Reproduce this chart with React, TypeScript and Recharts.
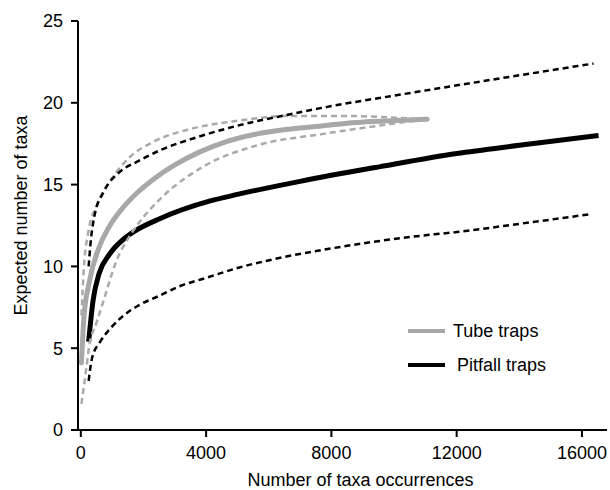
import { LineChart, Line, XAxis, YAxis, Legend } from 'recharts';

// x = number of taxa occurrences, y = expected number of taxa
const tubeMeanX = [20, 100, 265, 590, 900, 1350, 1800, 2300, 3000, 3800, 4600, 5630, 6700, 7740, 8800, 9880, 11060];
const tubeMeanY = [4.1, 6.9, 9.0, 11.2, 12.4, 13.6, 14.5, 15.3, 16.2, 17.0, 17.6, 18.1, 18.4, 18.6, 18.8, 18.9, 19.0];

const tubeUpperX = [20, 100, 230, 520, 1000, 1575, 2300, 3500, 5000, 6700, 8500, 9900, 11060];
const tubeUpperY = [7.0, 10.0, 12.0, 13.8, 15.4, 16.7, 17.6, 18.4, 18.9, 19.2, 19.2, 19.1, 19.0];

const tubeLowerX = [20, 170, 265, 490, 710, 900, 1130, 1575, 1830, 2630, 3910, 5630, 7740, 9880, 11060];
const tubeLowerY = [1.6, 3.7, 5.1, 6.5, 7.8, 9.0, 10.3, 11.9, 12.6, 14.3, 16.1, 17.4, 18.1, 18.7, 19.0];

const pitMeanX = [250, 390, 590, 900, 1450, 1850, 2500, 4130, 5000, 7000, 9560, 12000, 14000, 16530];
const pitMeanY = [5.4, 7.9, 9.6, 10.7, 11.8, 12.3, 12.9, 14.0, 14.4, 15.2, 16.1, 16.9, 17.4, 18.0];

const pitUpperX = [250, 300, 425, 745, 1256, 1800, 2530, 3720, 5000, 6690, 8000, 9880, 12760, 16370];
const pitUpperY = [10.0, 11.2, 13.0, 14.6, 15.8, 16.4, 17.1, 17.9, 18.6, 19.3, 19.8, 20.4, 21.3, 22.4];

const pitLowerX = [250, 360, 620, 940, 1575, 1830, 2500, 3170, 4000, 5000, 6560, 8000, 10520, 12000, 14000, 16300];
const pitLowerY = [3.0, 4.4, 5.4, 6.2, 7.3, 7.6, 8.2, 8.8, 9.3, 9.9, 10.6, 11.1, 11.8, 12.1, 12.6, 13.2];

const xTicks = [0, 4000, 8000, 12000, 16000];
const yTicks = [0, 5, 10, 15, 20, 25];

const legendItems = [
  { name: 'Tube traps', color: '#a8a8a8' },
  { name: 'Pitfall traps', color: '#000000' },
];

const zip = (xs: number[], ys: number[]) => xs.map((x, i) => ({ x, y: ys[i] }));

const FONT = '"Liberation Sans", Arial, sans-serif';
const tickStyle = { fill: '#000', fontSize: 18, fontFamily: FONT };

function LegendBox() {
  return (
    <div style={{ fontFamily: FONT, fontSize: 18, color: '#000' }}>
      {legendItems.map((item, i) => (
        <div key={item.name} style={{ display: 'flex', alignItems: 'center', height: 34 }}>
          <span style={{ display: 'inline-block', width: 37, height: 4, background: item.color }} />
          <span style={{ marginLeft: i === 0 ? 8 : 12 }}>{item.name}</span>
        </div>
      ))}
    </div>
  );
}

export default function App() {
  return (
    <div style={{ position: 'absolute', left: 0, top: 0, width: 610, height: 490, background: '#fff' }}>
      <LineChart width={610} height={490} margin={{ top: 21, right: 3, left: 0, bottom: 0 }}>
        <XAxis
          type="number"
          dataKey="x"
          domain={[-90, 16800]}
          ticks={xTicks}
          allowDataOverflow
          tickSize={7}
          tickMargin={9}
          height={60}
          stroke="#000"
          strokeWidth={2}
          tick={tickStyle}
          tickLine={{ stroke: '#000', strokeWidth: 2 }}
          label={{ value: 'Number of taxa occurrences', position: 'insideBottom', offset: 4, dx: 18, fill: '#000', fontSize: 18, fontFamily: FONT }}
        />
        <YAxis
          type="number"
          domain={[0, 25]}
          ticks={yTicks}
          width={78}
          tickSize={7}
          tickMargin={8}
          stroke="#000"
          strokeWidth={2}
          tick={tickStyle}
          tickLine={{ stroke: '#000', strokeWidth: 2 }}
          label={{ value: 'Expected number of taxa', angle: -90, position: 'center', dx: -18, dy: -10, fill: '#000', fontSize: 18, fontFamily: FONT }}
        />
        <Legend
          layout="vertical"
          align="center"
          verticalAlign="middle"
          content={() => <LegendBox />}
          wrapperStyle={{ position: 'absolute', left: 408, top: 314, width: 200 }}
        />
        <Line data={zip(pitMeanX, pitMeanY)} dataKey="y" type="monotone" stroke="#000" strokeWidth={5} dot={false} isAnimationActive={false} />
        <Line data={zip(tubeMeanX, tubeMeanY)} dataKey="y" type="monotone" stroke="#a8a8a8" strokeWidth={5} strokeLinecap="round" dot={false} isAnimationActive={false} />
        <Line data={zip(tubeUpperX, tubeUpperY)} dataKey="y" type="monotone" stroke="#aaaaaa" strokeWidth={2.5} strokeDasharray="6 4" dot={false} isAnimationActive={false} />
        <Line data={zip(tubeLowerX, tubeLowerY)} dataKey="y" type="monotone" stroke="#aaaaaa" strokeWidth={2.5} strokeDasharray="6 4" dot={false} isAnimationActive={false} />
        <Line data={zip(pitUpperX, pitUpperY)} dataKey="y" type="monotone" stroke="#000" strokeWidth={2.5} strokeDasharray="6 4" dot={false} isAnimationActive={false} />
        <Line data={zip(pitLowerX, pitLowerY)} dataKey="y" type="monotone" stroke="#000" strokeWidth={2.5} strokeDasharray="6 4" dot={false} isAnimationActive={false} />
      </LineChart>
    </div>
  );
}
